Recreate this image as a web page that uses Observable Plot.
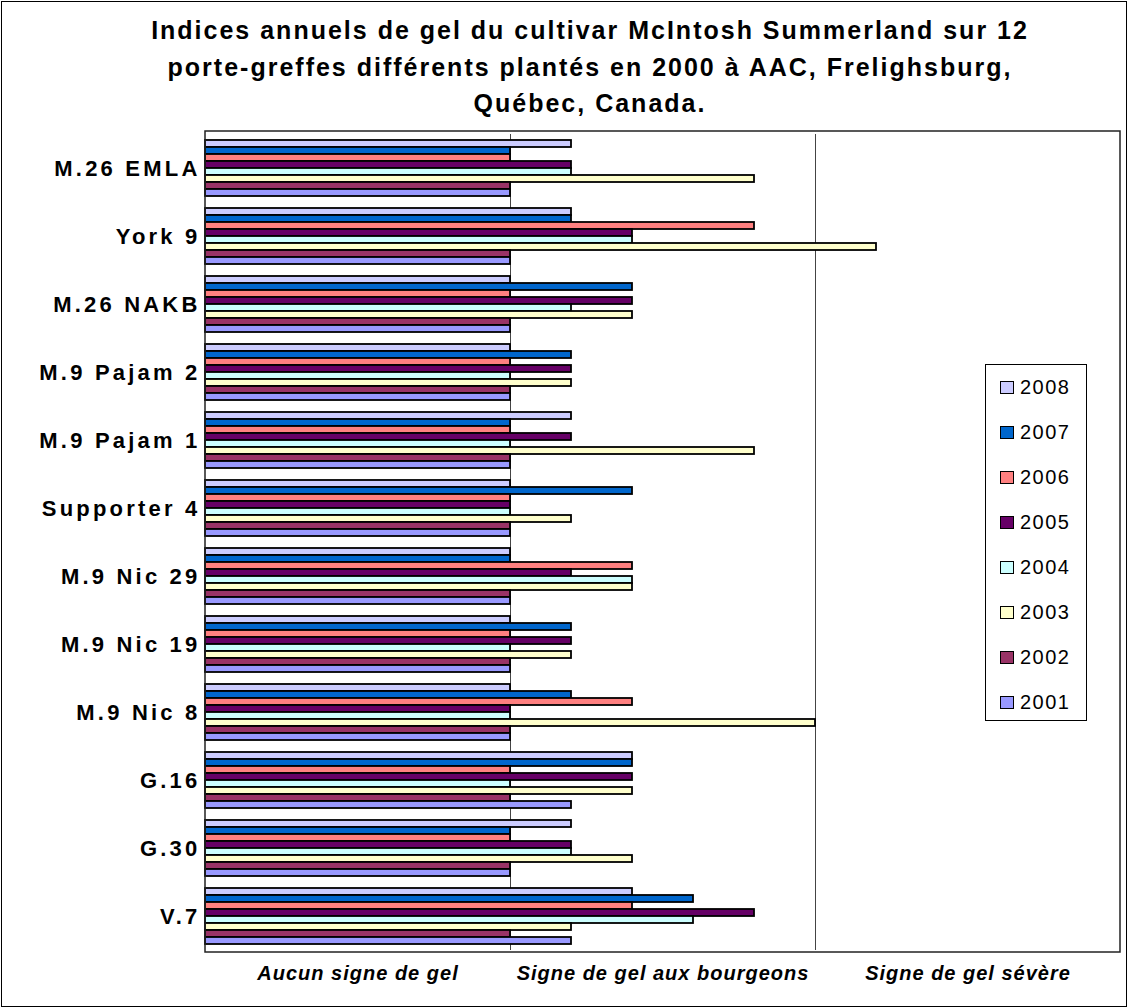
<!DOCTYPE html>
<html>
<head>
<meta charset="utf-8">
<script src="https://cdn.jsdelivr.net/npm/d3@7"></script>
<script src="https://cdn.jsdelivr.net/npm/@observablehq/plot@0.6"></script>
<style>
  body { margin: 0; background: #fff; font-family: "Liberation Sans", Arial, sans-serif; }
  #page { position: relative; width: 1128px; height: 1008px; overflow: hidden; background: #fff; }
  #border { position: absolute; left: 1px; top: 1px; width: 1124px; height: 1004px; border: 1px solid #000; pointer-events: none; }
  #title { position: absolute; left: 0; top: 12px; width: 1180px; text-align: center; font-weight: bold; font-size: 25px; line-height: 36.5px; letter-spacing: 2px; color: #000; }
  #chart { position: absolute; left: 0; top: 0; }
  #legend { position: absolute; left: 985px; top: 364px; width: 102px; height: 357px; border: 1px solid #000; background: #fff; box-sizing: border-box; padding-top: 0; }
  .item { height: 45px; display: flex; align-items: center; padding-left: 14px; font-size: 20px; letter-spacing: 1.5px; }
  .sw { width: 12px; height: 11px; border: 1px solid #000; margin-right: 6px; }
</style>
</head>
<body>
<div id="page">
  <div id="chart"></div>
  <div id="title">Indices annuels de gel du cultivar McIntosh Summerland sur 12<br>porte-greffes différents plantés en 2000 à AAC, Frelighsburg,<br>Québec, Canada.</div>
  <div id="legend"></div>
  <div id="border"></div>
</div>
<script>
const categories = ["M.26 EMLA", "York 9", "M.26 NAKB", "M.9 Pajam 2", "M.9 Pajam 1", "Supporter 4", "M.9 Nic 29", "M.9 Nic 19", "M.9 Nic 8", "G.16", "G.30", "V.7"];
const years = ["2008", "2007", "2006", "2005", "2004", "2003", "2002", "2001"];
const colors = ["#ccccff", "#0066cc", "#ff8080", "#660066", "#ccffff", "#ffffcc", "#993366", "#9999ff"];
const xLabels = ["Aucun signe de gel", "Signe de gel aux bourgeons", "Signe de gel sévère"];

const v2008 = [1.2, 1.2, 1.0, 1.0, 1.2, 1.0, 1.0, 1.0, 1.0, 1.4, 1.2, 1.4];
const v2007 = [1.0, 1.2, 1.4, 1.2, 1.0, 1.4, 1.0, 1.2, 1.2, 1.4, 1.0, 1.6];
const v2006 = [1.0, 1.8, 1.0, 1.0, 1.0, 1.0, 1.4, 1.0, 1.4, 1.0, 1.0, 1.4];
const v2005 = [1.2, 1.4, 1.4, 1.2, 1.2, 1.0, 1.2, 1.2, 1.0, 1.4, 1.2, 1.8];
const v2004 = [1.2, 1.4, 1.2, 1.0, 1.0, 1.0, 1.4, 1.0, 1.0, 1.0, 1.2, 1.6];
const v2003 = [1.8, 2.2, 1.4, 1.2, 1.8, 1.2, 1.4, 1.2, 2.0, 1.4, 1.4, 1.2];
const v2002 = [1.0, 1.0, 1.0, 1.0, 1.0, 1.0, 1.0, 1.0, 1.0, 1.0, 1.0, 1.0];
const v2001 = [1.0, 1.0, 1.0, 1.0, 1.0, 1.0, 1.0, 1.0, 1.0, 1.2, 1.0, 1.2];
const series = [v2008, v2007, v2006, v2005, v2004, v2003, v2002, v2001];

const data = [];
categories.forEach((c, i) => years.forEach((y, j) => data.push({category: c, year: y, value: series[j][i]})));

const chart = Plot.plot({
  width: 1128,
  height: 1008,
  marginLeft: 205,
  marginRight: 8,
  marginTop: 131,
  marginBottom: 56,
  style: {fontFamily: "'Liberation Sans', Arial, sans-serif", background: "transparent", color: "#000"},
  x: {domain: [0, 3], ticks: [0.5, 1.5, 2.5], tickFormat: d => xLabels[Math.floor(d)], tickSize: 0, tickPadding: 15, label: null},
  y: {domain: years, axis: null, paddingInner: 0, paddingOuter: 0.68},
  fy: {domain: categories, padding: 0, axis: "left", label: null, tickSize: 0, tickPadding: 5},
  color: {domain: years, range: colors},
  marks: [
    Plot.ruleX([1, 2], {stroke: "#444", strokeWidth: 1}),
    Plot.barX(data, {x: "value", y: "year", fy: "category", fill: "year", stroke: "#000", strokeWidth: 1.8, inset: 0})
  ]
});
document.getElementById("chart").appendChild(chart);

const svg = d3.select(chart);
svg.selectAll('g[aria-label^="fy-axis"] text')
  .attr("font-size", 22).attr("font-weight", "bold").attr("letter-spacing", 3.2).attr("fill", "#000");
svg.selectAll('g[aria-label^="x-axis"] text')
  .attr("font-size", 20).attr("font-weight", "bold").attr("font-style", "italic").attr("letter-spacing", 1).attr("fill", "#000");

const xr = chart.scale("x").range;
const fr = chart.scale("fy").range;
svg.append("rect")
  .attr("x", xr[0]).attr("y", fr[0])
  .attr("width", xr[1] - xr[0]).attr("height", fr[1] - fr[0])
  .attr("fill", "none").attr("stroke", "#222").attr("stroke-width", 1.5);

const legend = d3.select("#legend");
years.forEach((y, j) => {
  const it = legend.append("div").attr("class", "item");
  it.append("div").attr("class", "sw").style("background", colors[j]);
  it.append("span").text(y);
});
</script>
</body>
</html>
